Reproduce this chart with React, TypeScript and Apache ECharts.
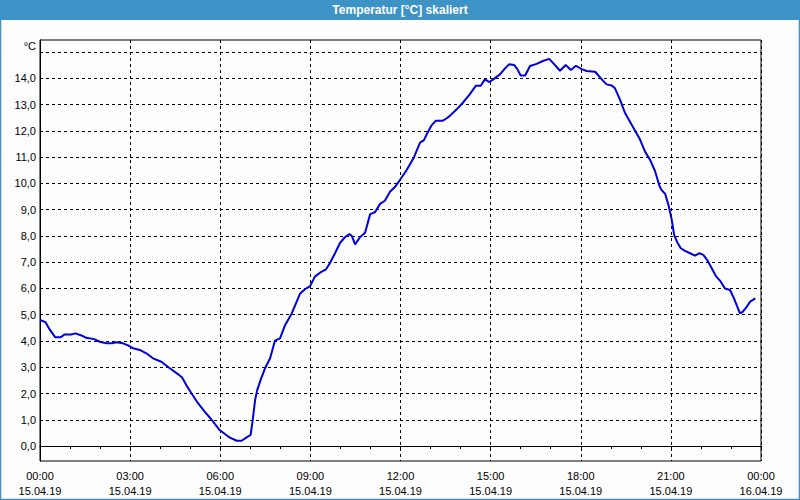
import React, { useEffect, useRef } from "react";
import * as echarts from "echarts";

const hours = [
  0.0, 0.18, 0.32, 0.51, 0.69, 0.82, 1.04, 1.18, 1.38, 1.54, 1.8, 1.99, 2.21, 2.4, 2.54, 2.76, 2.93,
  3.1, 3.32, 3.54, 3.76, 4.04, 4.32, 4.59, 4.73, 4.87, 5.04, 5.26, 5.48, 5.7, 5.98, 6.2, 6.32, 6.55,
  6.71, 6.88, 7.01, 7.08, 7.16, 7.23, 7.35, 7.49, 7.66, 7.82, 7.99, 8.16, 8.38, 8.66, 8.82, 8.99,
  9.15, 9.32, 9.52, 9.65, 9.82, 9.99, 10.15, 10.3, 10.38, 10.49, 10.65, 10.82, 10.99, 11.15, 11.32,
  11.48, 11.65, 11.82, 11.98, 12.2, 12.45, 12.65, 12.78, 12.89, 13.04, 13.18, 13.41, 13.54, 13.65,
  13.87, 14.09, 14.31, 14.51, 14.67, 14.81, 14.96, 15.09, 15.31, 15.48, 15.62, 15.78, 15.89, 16.0,
  16.15, 16.31, 16.53, 16.76, 16.95, 17.09, 17.31, 17.5, 17.67, 17.84, 18.03, 18.2, 18.48, 18.7,
  18.86, 19.03, 19.14, 19.31, 19.47, 19.64, 19.81, 19.97, 20.14, 20.31, 20.47, 20.62, 20.69, 20.81,
  20.92, 21.03, 21.11, 21.22, 21.33, 21.47, 21.64, 21.8, 21.95, 22.08, 22.21, 22.36, 22.5, 22.64,
  22.8, 22.97, 23.1, 23.21, 23.3, 23.39, 23.53, 23.64, 23.81,
];

const temps = [
  4.8, 4.72, 4.44, 4.14, 4.14, 4.25, 4.25, 4.29, 4.21, 4.12, 4.07, 3.97, 3.91, 3.91, 3.95, 3.91, 3.83,
  3.72, 3.66, 3.53, 3.34, 3.21, 2.96, 2.74, 2.61, 2.32, 2.01, 1.63, 1.31, 1.02, 0.61, 0.42, 0.32, 0.2,
  0.2, 0.33, 0.42, 0.99, 1.75, 2.13, 2.54, 2.96, 3.34, 4.01, 4.1, 4.61, 5.05, 5.81, 5.97, 6.09,
  6.45, 6.6, 6.73, 6.96, 7.34, 7.74, 7.95, 8.07, 8.0, 7.68, 7.95, 8.12, 8.83, 8.9, 9.22,
  9.34, 9.68, 9.87, 10.13, 10.5, 11.0, 11.55, 11.65, 11.91, 12.22, 12.39, 12.39, 12.48, 12.58,
  12.82, 13.09, 13.4, 13.72, 13.72, 13.96, 13.86, 13.96, 14.15, 14.38, 14.54, 14.51, 14.35, 14.11,
  14.11, 14.47, 14.55, 14.67, 14.74, 14.57, 14.29, 14.51, 14.32, 14.48, 14.35, 14.28, 14.25, 13.96,
  13.77, 13.73, 13.62, 13.18, 12.69, 12.35, 12.0, 11.68, 11.21, 10.89, 10.48, 9.9, 9.75, 9.6,
  9.18, 8.61, 8.03, 7.74, 7.53, 7.43, 7.34, 7.25, 7.34, 7.28, 7.08, 6.77, 6.47, 6.29,
  6.0, 5.94, 5.62, 5.31, 5.05, 5.11, 5.31, 5.5, 5.62,
];

const yLabelValues = [0, 1, 2, 3, 4, 5, 6, 7, 8, 9, 10, 11, 12, 13, 14];
const yGridValues = [0, 1, 2, 3, 4, 5, 6, 7, 8, 9, 10, 11, 12, 13, 14, 15];
const title = "Temperatur [°C] skaliert";
const unit = "°C";

const FONT = "'Liberation Sans', Arial, sans-serif";
const FRAME = "#3d93c5";
const DASH = [3, 3];

export default function App() {
  const ref = useRef<HTMLDivElement>(null);
  useEffect(() => {
    if (!ref.current) return;
    const chart = echarts.init(ref.current, null, { renderer: "svg" });
    const data = hours.map((h, i) => [h, temps[i]]);
    chart.setOption({
      animation: false,
      backgroundColor: "#fcfdfc",
      textStyle: { fontFamily: FONT },
      grid: {
        left: 40,
        right: 39,
        top: 40,
        bottom: 39,
        show: true,
        borderColor: "#000",
        borderWidth: 1,
        containLabel: false,
      },
      xAxis: {
        type: "value",
        min: 0,
        max: 24,
        interval: 3,
        axisLine: { show: true, lineStyle: { color: "#000", width: 1 } },
        axisTick: { show: true, length: 3, lineStyle: { color: "#000" } },
        minorTick: { show: true, splitNumber: 3, length: 3, lineStyle: { color: "#000" } },
        splitLine: { show: true, lineStyle: { color: "#000", type: DASH, width: 1 } },
        axisLabel: {
          color: "#000",
          fontSize: 11,
          fontFamily: FONT,
          lineHeight: 15,
          margin: 7,
          showMinLabel: true,
          showMaxLabel: true,
          formatter: (v: number) => {
            const hh = String(v % 24).padStart(2, "0");
            const date = v >= 24 ? "16.04.19" : "15.04.19";
            return hh + ":00\n" + date;
          },
        },
      },
      yAxis: {
        type: "value",
        min: -0.57,
        max: 15.46,
        axisLine: { show: true, lineStyle: { color: "#000", width: 1 } },
        axisTick: { show: false },
        splitLine: { show: false },
        axisLabel: {
          customValues: yLabelValues,
          color: "#000",
          fontSize: 11,
          fontFamily: FONT,
          margin: 4,
          formatter: (v: number) => v.toFixed(1).replace(".", ","),
        },
      },
      graphic: [
        {
          type: "rect",
          shape: { x: 0, y: 0, width: 800, height: 20 },
          style: { fill: FRAME },
          silent: true,
        },
        {
          type: "rect",
          shape: { x: 0.5, y: 0.5, width: 799, height: 499 },
          style: { fill: "none", stroke: FRAME, lineWidth: 1.5 },
          silent: true,
        },
        {
          type: "text",
          x: 400,
          y: 10,
          style: {
            text: title,
            fill: "#fff",
            fontSize: 12,
            fontWeight: "bold",
            fontFamily: FONT,
            align: "center",
            verticalAlign: "middle",
          },
          silent: true,
        },
        {
          type: "text",
          x: 36,
          y: 46,
          style: {
            text: unit,
            fill: "#000",
            fontSize: 11,
            fontFamily: FONT,
            align: "right",
            verticalAlign: "middle",
          },
          silent: true,
        },
      ],
      series: [
        {
          type: "line",
          data,
          showSymbol: false,
          symbol: "none",
          smooth: false,
          lineStyle: { color: "#0000dd", width: 2 },
          z: 3,
          markLine: {
            silent: true,
            symbol: "none",
            animation: false,
            label: { show: false },
            lineStyle: { color: "#000", type: DASH, width: 1 },
            emphasis: { disabled: true },
            data: yGridValues.map((v) => ({ yAxis: v })),
            z: 1,
          },
        },
      ],
    });
    return () => chart.dispose();
  }, []);
  return (
    <div
      ref={ref}
      style={{ position: "fixed", left: 0, top: 0, width: 800, height: 500 }}
    />
  );
}
